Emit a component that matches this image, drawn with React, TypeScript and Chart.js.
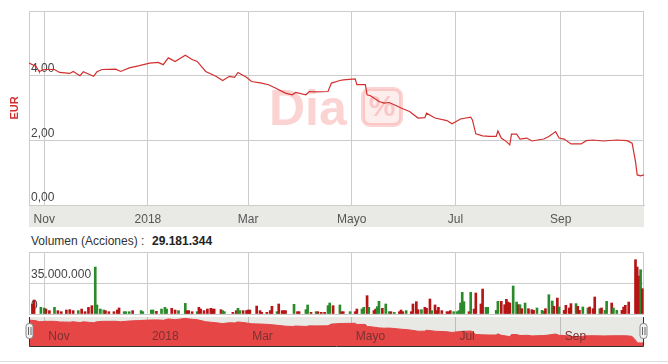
import React, { useEffect, useRef } from 'react';
import { Chart, registerables } from 'chart.js';
Chart.register(...registerables);

// x values are days counted from 2017-11-01
const monthTicks = [0, 61, 120, 181, 242, 304];
const monthLabels = ['Nov', '2018', 'Mar', 'Mayo', 'Jul', 'Sep'];
const priceTicks = [0, 2, 4, 6];
const volTicks = [0, 35, 70]; // millions
const volumeTitle = 'Volumen (Acciones) :';
const volumeTotal = '29.181.344';

const priceDays = [-9, -5, -3, 0, 6, 9, 15, 17, 21, 23, 26, 29, 31, 34, 42, 45, 50, 56, 62, 67, 70, 73, 77, 83, 87, 90, 95, 101, 105, 109, 112, 114, 119, 122, 128, 132, 136, 142, 146, 148, 154, 156, 160, 167, 169, 174, 176, 183, 184, 189, 190, 192, 197, 200, 203, 206, 210, 215, 220, 224, 225, 230, 237, 240, 245, 251, 252, 254, 258, 262, 266, 267, 269, 272, 274, 275, 278, 280, 284, 287, 294, 297, 301, 303, 306, 310, 316, 319, 323, 329, 337, 343, 346, 348, 349, 351, 353];
const priceValues = [4.39, 4.29, 4.13, 4.19, 4.19, 4.10, 4.07, 4.13, 4.00, 4.12, 4.05, 3.98, 4.12, 4.19, 4.20, 4.13, 4.24, 4.31, 4.39, 4.41, 4.34, 4.55, 4.44, 4.63, 4.50, 4.44, 4.13, 3.98, 3.85, 3.98, 3.95, 4.10, 3.95, 3.82, 3.77, 3.72, 3.62, 3.46, 3.41, 3.48, 3.41, 3.51, 3.50, 3.51, 3.77, 3.85, 3.87, 3.90, 3.72, 3.72, 3.41, 3.38, 3.20, 3.15, 3.17, 3.10, 3.00, 2.89, 2.69, 2.70, 2.84, 2.69, 2.61, 2.51, 2.66, 2.72, 2.63, 2.20, 2.14, 2.12, 2.12, 2.29, 2.07, 1.96, 1.86, 2.19, 2.19, 2.04, 2.07, 1.98, 2.04, 2.12, 2.27, 2.07, 2.04, 1.89, 1.89, 1.99, 2.01, 1.98, 2.01, 1.99, 1.91, 1.34, 0.93, 0.90, 0.93];

const volDays = [-7, -6, -2, 0, 1, 3, 6, 8, 10, 13, 15, 17, 20, 22, 24, 26, 28, 30, 31, 33, 35, 36, 38, 41, 43, 44, 47, 48, 50, 52, 57, 58, 63, 64, 66, 69, 71, 72, 75, 77, 79, 83, 84, 85, 87, 90, 91, 92, 94, 96, 98, 99, 100, 104, 105, 106, 111, 113, 114, 115, 117, 119, 120, 121, 125, 127, 128, 131, 133, 134, 137, 138, 140, 141, 142, 147, 149, 150, 154, 155, 157, 160, 161, 163, 165, 167, 168, 170, 174, 175, 176, 180, 183, 184, 187, 188, 190, 191, 194, 195, 196, 197, 199, 201, 203, 204, 206, 209, 210, 211, 213, 216, 217, 219, 220, 222, 224, 225, 227, 228, 230, 231, 232, 234, 237, 238, 239, 241, 243, 244, 245, 246, 247, 250, 251, 253, 254, 257, 258, 260, 261, 266, 267, 269, 271, 272, 273, 274, 276, 278, 279, 280, 281, 283, 285, 287, 288, 290, 293, 294, 295, 297, 299, 300, 302, 303, 306, 307, 309, 310, 313, 314, 315, 317, 320, 321, 323, 324, 327, 328, 330, 331, 334, 335, 337, 340, 341, 342, 344, 348, 349, 350, 351, 352];
const volValues = [11, 15.8, 7.5, 6.7, 5.6, 3.8, 7.5, 3.8, 2.6, 4.5, 4.9, 3.8, 3.8, 5.6, 2.6, 7.5, 9.4, 53, 10.2, 5.6, 4.5, 3.8, 2.6, 2.6, 4.5, 6.8, 2.6, 2.6, 2.6, 3.8, 3.8, 2.6, 4.5, 4.5, 3, 5.6, 7.5, 5.6, 6.4, 4.5, 3.8, 12, 3.8, 3.8, 2.6, 2.6, 7.5, 5.6, 3.8, 5.6, 6.4, 5.6, 5.6, 4.9, 3.8, 2.6, 1.9, 3.8, 6.4, 3.8, 3.8, 3.8, 4.5, 4.5, 9, 3.8, 1.9, 1.9, 3.8, 8.7, 2.6, 11.3, 3.8, 3.8, 3.8, 10.9, 2.6, 2.6, 4.9, 10.2, 1.9, 2.6, 2.6, 1.9, 1.9, 9.4, 12.4, 9.4, 10.2, 2.6, 2.6, 2.6, 2.6, 5.6, 5.6, 7.5, 20.7, 7.5, 3.8, 5.6, 8.3, 14.3, 6.4, 11.3, 2.6, 2.6, 1.9, 2.6, 4.5, 2.6, 3.8, 2.6, 11.3, 13.9, 4.9, 4.9, 7.5, 6.4, 16.9, 3.8, 10.2, 3.8, 7.5, 3.8, 2.6, 2.6, 3.8, 2.6, 2.6, 3.8, 12.4, 24.5, 13.9, 2.6, 24.5, 5.6, 23.7, 11.3, 28.2, 7.5, 7.5, 4.1, 14.3, 14.3, 10.5, 16.6, 13.5, 12.4, 31.6, 13.5, 10.5, 10.5, 6, 12.4, 6, 4.9, 4.1, 6.8, 4.1, 3, 6, 21.8, 14.7, 8.7, 18, 7.9, 4.1, 9.8, 6.8, 11.7, 11.7, 8.7, 4.1, 7.9, 6.8, 7.9, 6, 19.2, 6, 6.8, 4.1, 14.3, 12.4, 6.8, 4.1, 4.1, 7.9, 9.8, 13.5, 61.3, 53, 42.9, 50, 28.6];
const volUp = [0, 0, 1, 1, 0, 0, 1, 0, 0, 0, 0, 0, 1, 0, 0, 0, 0, 1, 1, 1, 1, 0, 0, 0, 0, 0, 1, 1, 1, 0, 1, 1, 1, 1, 0, 1, 1, 1, 0, 0, 1, 1, 0, 0, 0, 1, 0, 0, 0, 0, 0, 0, 0, 0, 1, 1, 0, 0, 1, 1, 0, 0, 0, 0, 0, 0, 0, 0, 0, 0, 1, 0, 0, 0, 0, 1, 0, 0, 1, 1, 0, 1, 0, 0, 0, 1, 1, 0, 1, 0, 0, 1, 0, 0, 1, 1, 0, 1, 0, 0, 1, 1, 0, 1, 1, 0, 1, 0, 0, 0, 1, 0, 0, 0, 0, 1, 0, 0, 0, 1, 0, 0, 0, 0, 0, 0, 0, 1, 1, 1, 1, 1, 1, 0, 1, 0, 0, 0, 0, 1, 1, 1, 1, 0, 0, 0, 0, 0, 1, 1, 0, 1, 0, 1, 0, 0, 0, 1, 1, 1, 0, 1, 1, 0, 0, 1, 0, 0, 0, 0, 1, 0, 0, 1, 1, 0, 0, 0, 1, 0, 1, 1, 0, 1, 1, 0, 0, 0, 0, 0, 0, 0, 1, 0];

const X_MIN = -9;
const X_MAX = 353;
const FONT = "Arial, 'Liberation Sans', Helvetica, sans-serif";
Chart.defaults.font.family = FONT;

const GRID = '#cccccc';
const LINE_RED = '#d32f2f';

const monthLabel = (v: any) => {
  const i = monthTicks.indexOf(Number(v));
  return i >= 0 ? monthLabels[i] : '';
};
const setTicks = (arr: number[]) => (s: any) => {
  s.ticks = arr.map((v) => ({ value: v }));
};
const fixWidth = (w: number) => (s: any) => {
  s.width = w;
  s.paddingTop = 0;
  s.paddingBottom = 0;
};

const framePlugin = {
  id: 'frame',
  beforeDatasetsDraw(chart: any) {
    const { ctx, chartArea: a } = chart;
    ctx.save();
    ctx.strokeStyle = GRID;
    ctx.lineWidth = 1;
    ctx.strokeRect(Math.round(a.left) + 0.5, Math.round(a.top) + 0.5, Math.round(a.right - a.left) - 1, Math.round(a.bottom - a.top));
    ctx.restore();
  },
};

const watermarkPlugin = {
  id: 'watermark',
  beforeDatasetsDraw(chart: any) {
    const { ctx } = chart;
    ctx.save();
    const c = 'rgba(238,80,80,0.25)';
    ctx.fillStyle = c;
    ctx.font = `bold 50px ${FONT}`;
    ctx.textBaseline = 'alphabetic';
    ctx.textAlign = 'left';
    ctx.fillText('Dia', 269, 125);
    ctx.beginPath();
    (ctx as any).roundRect(363, 89, 38, 36, 7);
    ctx.fillStyle = 'rgba(238,80,80,0.1)';
    ctx.fill();
    ctx.lineWidth = 4;
    ctx.strokeStyle = c;
    ctx.stroke();
    ctx.fillStyle = c;
    ctx.font = `bold 30px ${FONT}`;
    ctx.textAlign = 'center';
    ctx.textBaseline = 'middle';
    ctx.fillText('%', 382, 108);
    ctx.restore();
  },
};

const navBgPlugin = {
  id: 'navbg',
  beforeDraw(chart: any) {
    const { ctx, chartArea: a } = chart;
    ctx.save();
    ctx.fillStyle = '#e8e8e5';
    ctx.fillRect(a.left, a.top, a.right - a.left, a.bottom - a.top);
    ctx.restore();
  },
  afterDraw(chart: any) {
    const { ctx, chartArea: a, scales } = chart;
    ctx.save();
    ctx.fillStyle = '#7a3131';
    ctx.font = `12px ${FONT}`;
    ctx.textAlign = 'left';
    ctx.textBaseline = 'middle';
    monthTicks.forEach((v, i) => {
      ctx.fillText(monthLabels[i], scales.x.getPixelForValue(v) + 4, 21);
    });
    ctx.strokeStyle = '#333';
    ctx.lineWidth = 1;
    ctx.beginPath();
    ctx.moveTo(a.left + 0.5, a.top);
    ctx.lineTo(a.left + 0.5, a.bottom + 0.5);
    ctx.lineTo(a.right - 0.5, a.bottom + 0.5);
    ctx.lineTo(a.right - 0.5, a.top);
    ctx.stroke();
    ctx.strokeStyle = '#dddddd';
    ctx.beginPath();
    ctx.moveTo(0, 45.5);
    ctx.lineTo(668, 45.5);
    ctx.stroke();
    const drawHandle = (cx: number) => {
      ctx.beginPath();
      (ctx as any).roundRect(cx - 3.5, 7.5, 7, 15, 3);
      ctx.fillStyle = '#f2f2f2';
      ctx.fill();
      ctx.strokeStyle = '#888';
      ctx.stroke();
      ctx.beginPath();
      ctx.moveTo(cx - 1, 11);
      ctx.lineTo(cx - 1, 19);
      ctx.moveTo(cx + 1.5, 11);
      ctx.lineTo(cx + 1.5, 19);
      ctx.strokeStyle = '#666';
      ctx.stroke();
    };
    drawHandle(Math.round(a.left) + 0.5);
    drawHandle(Math.round(a.right) - 0.5);
    ctx.restore();
  },
};

function mainConfig(): any {
  return {
    type: 'line',
    data: {
      datasets: [
        {
          data: priceDays.map((d, i) => ({ x: d, y: priceValues[i] })),
          borderColor: LINE_RED,
          borderWidth: 1.2,
          pointRadius: 0,
          tension: 0,
          fill: false,
        },
      ],
    },
    options: {
      responsive: false,
      animation: false,
      layout: { padding: { top: 11, right: 24, bottom: 3, left: 0 } },
      plugins: { legend: { display: false }, tooltip: { enabled: false } },
      scales: {
        x: {
          type: 'linear',
          min: X_MIN,
          max: X_MAX,
          backgroundColor: '#e9e9e6',
          afterBuildTicks: setTicks(monthTicks),
          afterFit: (s: any) => {
            s.height = 22;
          },
          grid: { color: GRID, drawTicks: false },
          border: { color: GRID },
          ticks: { callback: monthLabel, color: '#555', font: { size: 12 }, padding: 7, maxRotation: 0, autoSkip: false },
        },
        y: {
          min: 0,
          max: 6,
          afterBuildTicks: setTicks(priceTicks),
          afterFit: fixWidth(29),
          grid: { color: GRID, drawTicks: false },
          border: { color: GRID },
          ticks: {
            mirror: true,
            padding: 2,
            labelOffset: -7,
            color: '#444',
            font: { size: 12 },
            callback: (v: any) => (Number(v) === 6 ? '' : Number(v).toFixed(2).replace('.', ',')),
          },
          title: { display: true, text: 'EUR', color: LINE_RED, font: { size: 11, weight: 'bold' }, padding: { top: 8, bottom: 0 } },
        },
      },
    },
    plugins: [framePlugin, watermarkPlugin],
  };
}

function volConfig(): any {
  return {
    type: 'bar',
    data: {
      datasets: [
        {
          data: volDays.map((d, i) => ({ x: d, y: volValues[i] })),
          backgroundColor: volUp.map((u) => (u ? '#2b8a2b' : '#b51515')),
          barThickness: 2,
          borderWidth: 0,
        },
      ],
    },
    options: {
      responsive: false,
      animation: false,
      layout: { padding: { top: 8, right: 24, bottom: 2, left: 0 } },
      plugins: { legend: { display: false }, tooltip: { enabled: false } },
      scales: {
        x: {
          type: 'linear',
          offset: false,
          min: X_MIN,
          max: X_MAX,
          afterBuildTicks: setTicks(monthTicks),
          afterFit: (s: any) => {
            s.height = 0;
          },
          grid: { color: GRID, drawTicks: false, offset: false },
          border: { display: false },
          ticks: { display: false },
        },
        y: {
          min: 0,
          max: 70,
          afterBuildTicks: setTicks(volTicks),
          afterFit: fixWidth(29),
          grid: { color: GRID, drawTicks: false },
          border: { color: GRID },
          ticks: {
            mirror: true,
            padding: 2,
            labelOffset: -8,
            color: '#444',
            font: { size: 12 },
            callback: (v: any) => (Number(v) === 35 ? '35.000.000' : Number(v) === 0 ? '0' : ''),
          },
        },
      },
    },
    plugins: [framePlugin],
  };
}

function navConfig(): any {
  return {
    type: 'line',
    data: {
      datasets: [
        {
          data: priceDays.map((d, i) => ({ x: d, y: priceValues[i] })),
          borderColor: '#e24444',
          backgroundColor: '#e64646',
          borderWidth: 1,
          pointRadius: 0,
          tension: 0,
          fill: 'start',
        },
      ],
    },
    options: {
      responsive: false,
      animation: false,
      layout: { padding: { top: 1, right: 24, bottom: 18, left: 29 } },
      plugins: { legend: { display: false }, tooltip: { enabled: false } },
      scales: {
        x: {
          type: 'linear',
          min: X_MIN,
          max: X_MAX,
          z: 1,
          afterBuildTicks: setTicks(monthTicks),
          afterFit: (s: any) => {
            s.height = 0;
          },
          grid: { color: 'rgba(110,110,110,0.35)', drawTicks: false },
          border: { display: false },
          ticks: { display: false },
        },
        y: { display: false, min: 0.45, max: 4.85 },
      },
    },
    plugins: [navBgPlugin],
  };
}

export default function App() {
  const mainRef = useRef<HTMLCanvasElement>(null);
  const volRef = useRef<HTMLCanvasElement>(null);
  const navRef = useRef<HTMLCanvasElement>(null);

  useEffect(() => {
    const charts = [
      new Chart(mainRef.current as HTMLCanvasElement, mainConfig()),
      new Chart(volRef.current as HTMLCanvasElement, volConfig()),
      new Chart(navRef.current as HTMLCanvasElement, navConfig()),
    ];
    return () => charts.forEach((c) => c.destroy());
  }, []);

  return (
    <div style={{ position: 'absolute', left: 0, top: 0, width: 668, height: 364, background: '#fff', fontFamily: FONT, overflow: 'hidden' }}>
      <canvas ref={mainRef} width={668} height={230} style={{ position: 'absolute', left: 0, top: 0 }} />
      <div style={{ position: 'absolute', left: 31, top: 234, fontSize: 12, lineHeight: '14px', color: '#333', whiteSpace: 'nowrap' }}>{volumeTitle}</div>
      <div style={{ position: 'absolute', left: 152, top: 234, fontSize: 12, lineHeight: '14px', color: '#222', fontWeight: 'bold', whiteSpace: 'nowrap' }}>{volumeTotal}</div>
      <canvas ref={volRef} width={668} height={72} style={{ position: 'absolute', left: 0, top: 244 }} />
      <canvas ref={navRef} width={668} height={48} style={{ position: 'absolute', left: 0, top: 316 }} />
    </div>
  );
}
